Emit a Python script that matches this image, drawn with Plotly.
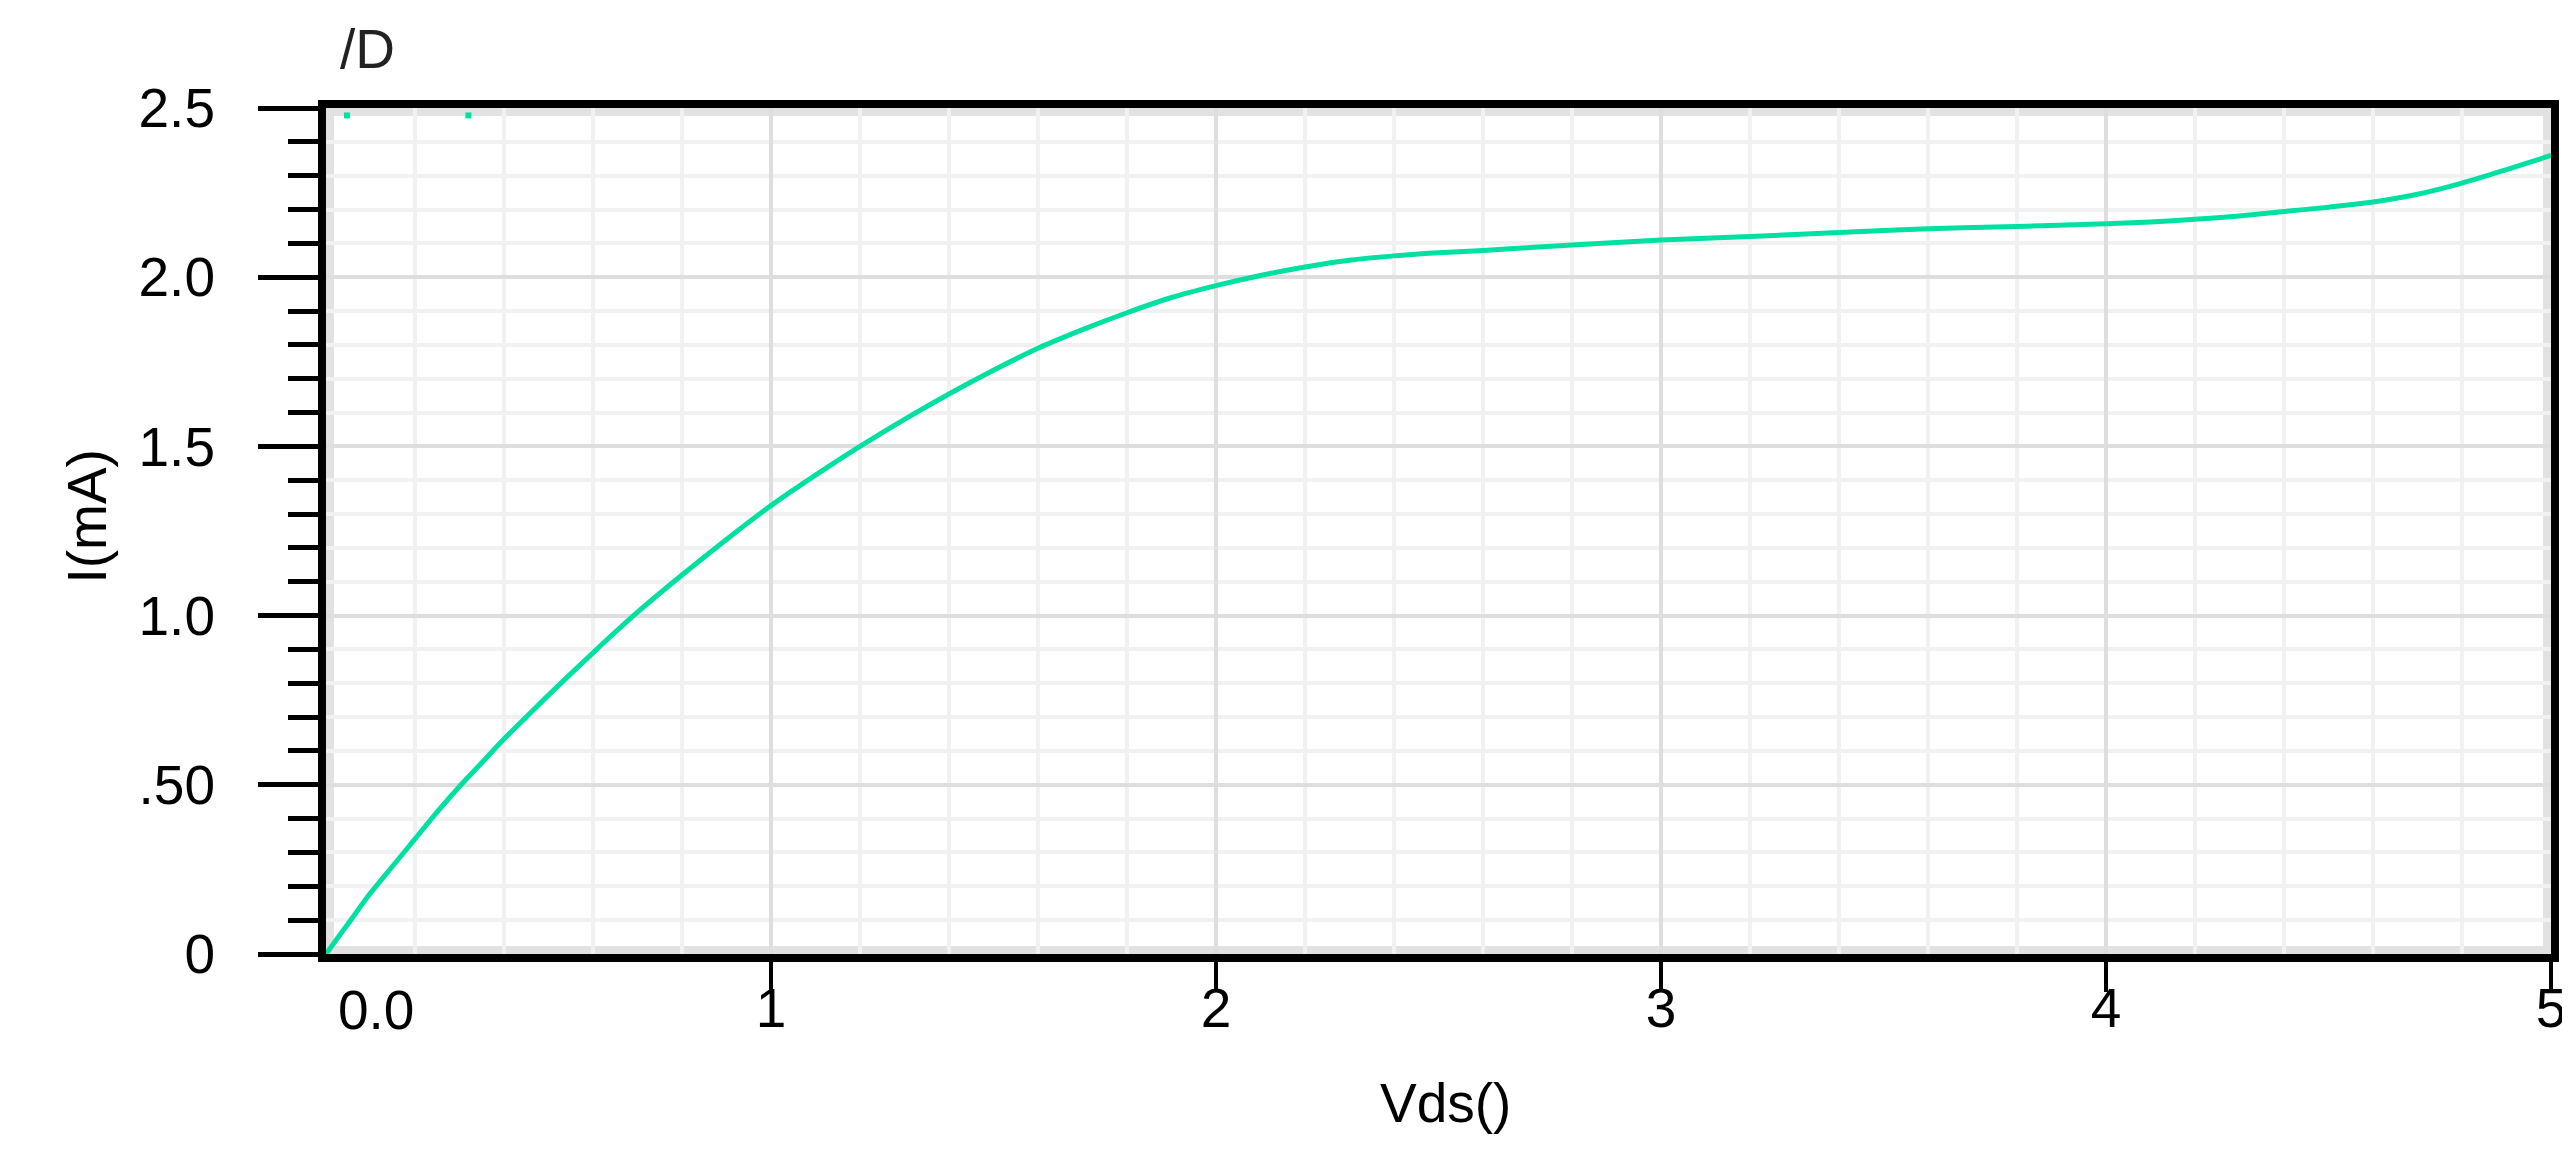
import plotly.graph_objects as go

# Drain current vs drain-source voltage
vds = [0.0, 0.05, 0.1, 0.15, 0.2, 0.25, 0.3, 0.35, 0.4, 0.45, 0.5, 0.6, 0.7, 0.8, 0.9,
       1.0, 1.1, 1.2, 1.3, 1.4, 1.5, 1.6, 1.7, 1.8, 1.9, 2.0, 2.1, 2.2, 2.3, 2.4, 2.5,
       2.6, 2.8, 3.0, 3.2, 3.4, 3.6, 3.8, 4.0, 4.1, 4.2, 4.3, 4.4, 4.5, 4.6, 4.7, 4.8,
       4.9, 5.0]
i_ma = [0.0, 0.09, 0.18, 0.26, 0.34, 0.42, 0.495, 0.565, 0.635, 0.70, 0.765, 0.89, 1.01,
        1.12, 1.225, 1.325, 1.415, 1.50, 1.58, 1.655, 1.725, 1.79, 1.845, 1.895, 1.94,
        1.975, 2.005, 2.03, 2.05, 2.063, 2.072, 2.079, 2.095, 2.11, 2.12, 2.132, 2.143,
        2.15, 2.158, 2.163, 2.171, 2.181, 2.194, 2.207, 2.222, 2.245, 2.278, 2.318, 2.36]

# little marker stubs drawn at the top edge
mark_x = [0.047, 0.32]
mark_y = [2.478, 2.478]

x_ticks = [1, 2, 3, 4, 5]
x_labels = ['1', '2', '3', '4', '5']
y_ticks = [0, 0.5, 1.0, 1.5, 2.0, 2.5]
y_labels = ['0', '.50', '1.0', '1.5', '2.0', '2.5']

W, H = 2570, 1162
L, R, T, B = 318, 23, 100, 216
pw = W - L - R
ph = H - T - B

def px_x(p):
    return (p - L) / pw

def px_y(p):
    return (H - B - p) / ph

green = '#00E0A0'
font = 'Liberation Sans, Arial, sans-serif'

fig = go.Figure()
fig.add_trace(go.Scatter(x=vds, y=i_ma, mode='lines',
                         line=dict(color=green, width=5, shape='spline', smoothing=0.8),
                         hoverinfo='skip'))
fig.add_trace(go.Scatter(x=mark_x, y=mark_y, mode='markers',
                         marker=dict(color=green, size=6, symbol='square'),
                         hoverinfo='skip'))

fig.update_xaxes(
    range=[0, 5], showline=True, linewidth=8, linecolor='black', mirror=True,
    tickmode='array', tickvals=x_ticks, ticktext=x_labels,
    ticks='outside', ticklen=30, tickwidth=4, tickcolor='black',
    ticklabelstandoff=-31,
    showgrid=True, gridcolor='#dedede', gridwidth=4, zeroline=False,
    minor=dict(tickmode='linear', tick0=0, dtick=0.2, ticks='',
               showgrid=True, gridcolor='#f1f1f1', gridwidth=4),
)
fig.update_yaxes(
    range=[0, 2.5], showline=True, linewidth=8, linecolor='black', mirror=True,
    tickmode='array', tickvals=y_ticks, ticktext=y_labels,
    ticks='outside', ticklen=60, tickwidth=5, tickcolor='black',
    ticklabelstandoff=32,
    showgrid=True, gridcolor='#dedede', gridwidth=4, zeroline=False,
    minor=dict(tickmode='linear', tick0=0, dtick=0.1, ticks='outside',
               ticklen=30, tickwidth=5, tickcolor='black',
               showgrid=True, gridcolor='#f1f1f1', gridwidth=4),
)

# soft grey halo around the frame
fig.add_shape(type='rect', xref='paper', yref='paper', x0=0, x1=1, y0=0, y1=1,
              line=dict(color='#e2e2e2', width=16), layer='below')

fig.add_annotation(x=px_x(46), y=px_y(508), xref='paper', yref='paper',
                   text='I(mA)', textangle=-90, showarrow=False,
                   font=dict(size=55, color='black', family=font))
fig.add_annotation(x=px_x(1440), y=px_y(1128), xref='paper', yref='paper',
                   text='Vds()', showarrow=False,
                   font=dict(size=55, color='black', family=font))
fig.add_annotation(x=px_x(330), y=px_y(8), xref='paper', yref='paper',
                   text='/D', showarrow=False, xanchor='left', yanchor='top',
                   font=dict(size=55, color='#222222', family=font))
fig.add_annotation(x=px_x(328), y=px_y(1035), xref='paper', yref='paper',
                   text='0.0', showarrow=False,
                   font=dict(size=55, color='black', family=font))

fig.update_layout(
    width=W, height=H,
    margin=dict(l=L, r=R, t=T, b=B),
    paper_bgcolor='white', plot_bgcolor='white',
    showlegend=False,
    font=dict(family=font, size=55, color='black'),
)

fig.write_html("out.html")
